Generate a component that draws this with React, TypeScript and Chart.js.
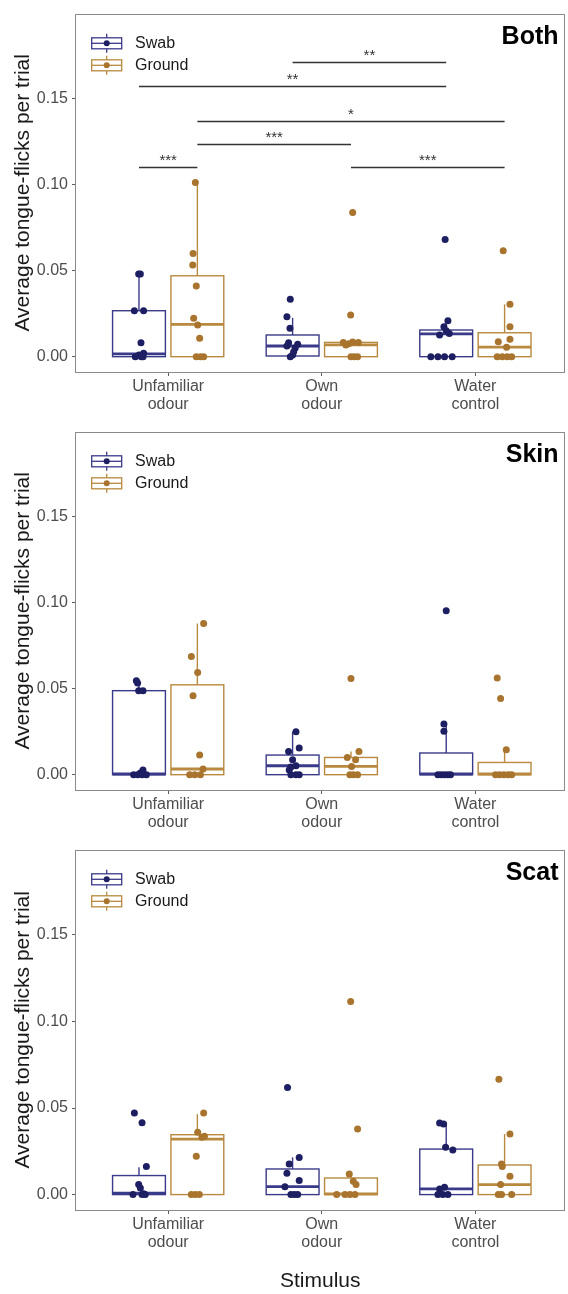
import React, { useEffect, useRef } from "react";
import { Chart, registerables } from "chart.js";

Chart.register(...registerables);

const FONT = "'Liberation Sans', Arial, Helvetica, sans-serif";

// ---------- data ----------
const categories = [["Unfamiliar", "odour"], ["Own", "odour"], ["Water", "control"]];
const groupNames = ["Swab", "Ground"];
const panelNames = ["Both", "Skin", "Scat"];
const yTickValues = [0, 0.05, 0.1, 0.15];

// Box stats per category: [lower whisker, Q1, median, Q3, upper whisker]
// "Both"
const bothSwabValues = [
  [0.048, 0.048, 0.0267, 0.0267, 0.0081, 0.002, 0.001, 0, 0, 0],
  [0.0333, 0.0232, 0.0165, 0.0081, 0.0072, 0.0062, 0.005, 0.0029, 0.001, 0],
  [0.0681, 0.0209, 0.0174, 0.015, 0.0135, 0.0126, 0, 0, 0, 0],
];
const bothSwabJitter = [
  [-0.002, 0.009, -0.03, 0.03, 0.013, 0.03, 0, -0.024, 0.026, 0.015],
  [-0.015, -0.037, -0.017, -0.026, 0.033, -0.037, 0.017, 0.007, 0, -0.015],
  [-0.007, 0.011, -0.015, 0, 0.02, -0.043, -0.1, -0.054, -0.011, 0.039],
];
const bothSwabBox = [
  [0, 0, 0.0016, 0.0267, 0.048],
  [0, 0.0004, 0.0062, 0.0126, 0.0226],
  [0, 0, 0.0132, 0.0155, 0.0209],
];
const bothGroundValues = [
  [0.1012, 0.06, 0.0532, 0.041, 0.0223, 0.0184, 0.0107, 0, 0, 0],
  [0.0838, 0.0242, 0.0085, 0.0083, 0.0083, 0.0075, 0.0068, 0, 0, 0],
  [0.0615, 0.0304, 0.0174, 0.0101, 0.0087, 0.0055, 0, 0, 0, 0],
];
const bothGroundJitter = [
  [-0.013, -0.028, -0.03, -0.007, -0.024, 0.002, 0.015, -0.007, 0.02, 0.041],
  [0.011, -0.002, 0.011, -0.05, 0.048, -0.015, -0.033, 0, 0.02, 0.043],
  [-0.009, 0.035, 0.035, 0.035, -0.041, 0.013, -0.048, -0.015, 0.017, 0.046],
];
const bothGroundBox = [
  [0, 0, 0.0188, 0.047, 0.1012],
  [0, 0, 0.0068, 0.0083, 0.0088],
  [0, 0, 0.0055, 0.0139, 0.0304],
];

// "Skin"
const skinSwabValues = [
  [0.0546, 0.0532, 0.0488, 0.0488, 0.0027, 0.001, 0, 0, 0, 0],
  [0.025, 0.0155, 0.0135, 0.0087, 0.0052, 0.0045, 0.0027, 0, 0, 0],
  [0.0952, 0.0294, 0.0252, 0, 0, 0, 0, 0],
];
const skinSwabJitter = [
  [-0.017, -0.009, -0.002, 0.026, 0.026, 0.009, -0.035, -0.009, 0.02, 0.048],
  [0.022, 0.043, -0.026, 0, 0.022, -0.011, -0.022, -0.011, 0.022, 0.043],
  [0, -0.015, -0.015, -0.054, -0.033, -0.011, 0.011, 0.028],
];
const skinSwabBox = [
  [0, 0, 0.0004, 0.0488, 0.0546],
  [0, 0, 0.0052, 0.0114, 0.025],
  [0, 0, 0.0004, 0.0126, 0.0294],
];
const skinGroundValues = [
  [0.0878, 0.0687, 0.0594, 0.0459, 0.0114, 0.0033, 0, 0, 0],
  [0.0559, 0.0135, 0.01, 0.0087, 0.0048, 0, 0, 0],
  [0.0561, 0.0443, 0.0145, 0, 0, 0, 0, 0],
];
const skinGroundJitter = [
  [0.041, -0.039, 0.002, -0.028, 0.015, 0.037, -0.05, -0.017, 0.02],
  [0, 0.052, -0.024, 0.03, 0.004, -0.007, 0.015, 0.043],
  [-0.048, -0.026, 0.011, -0.059, -0.033, -0.004, 0.024, 0.046],
];
const skinGroundBox = [
  [0, 0, 0.0033, 0.0522, 0.0878],
  [0, 0, 0.0048, 0.01, 0.0135],
  [0, 0, 0.0004, 0.0071, 0.0145],
];

// "Scat"
const scatSwabValues = [
  [0.0471, 0.0415, 0.0163, 0.0058, 0.0038, 0.0005, 0, 0, 0],
  [0.0619, 0.0215, 0.0177, 0.0123, 0.0081, 0.0046, 0, 0, 0],
  [0.0413, 0.0408, 0.0273, 0.0258, 0.0042, 0.0033, 0, 0, 0],
];
const scatSwabJitter = [
  [-0.03, 0.02, 0.048, -0.002, 0.009, 0.03, -0.039, 0.02, 0.041],
  [-0.033, 0.043, -0.022, -0.037, 0.043, -0.05, -0.011, 0.011, 0.033],
  [-0.043, -0.017, -0.004, 0.043, -0.011, -0.043, -0.054, -0.022, 0.011],
];
const scatSwabBox = [
  [0, 0, 0.0008, 0.011, 0.0158],
  [0, 0, 0.0046, 0.0148, 0.0215],
  [0, 0, 0.0033, 0.0263, 0.0412],
];
const scatGroundValues = [
  [0.0471, 0.036, 0.0337, 0.0331, 0.0221, 0, 0, 0],
  [0.1115, 0.0379, 0.0119, 0.0077, 0.0058, 0, 0, 0, 0],
  [0.0667, 0.035, 0.0177, 0.0162, 0.0106, 0.0058, 0, 0, 0],
];
const scatGroundJitter = [
  [0.041, 0.002, 0.046, 0.03, -0.007, -0.039, -0.013, 0.013],
  [-0.002, 0.043, -0.011, 0.015, 0.033, -0.093, -0.039, -0.007, 0.026],
  [-0.037, 0.035, -0.02, -0.015, 0.035, -0.026, -0.041, -0.02, 0.046],
];
const scatGroundBox = [
  [0, 0, 0.0321, 0.0346, 0.0465],
  [0, 0, 0.0004, 0.0096, 0.0119],
  [0, 0, 0.0058, 0.0171, 0.035],
];

// Significance brackets ("Both" panel): [category, group] endpoints
const sigFrom = [[2, 0], [1, 0], [1, 1], [1, 1], [1, 0], [2, 1]];
const sigTo = [[3, 0], [3, 0], [3, 1], [2, 1], [1, 1], [3, 1]];
const sigY = [0.1711, 0.1571, 0.1372, 0.1233, 0.1103, 0.1103];
const sigLabels = ["**", "**", "*", "***", "***", "***"];

// ---------- style ----------
const pointColors = ["#1e1e63", "#a8742e"];
const boxColors = ["#3a3a8a", "#b8893f"];
const GROUP_OFFSET = [-0.19, 0.19];
const BOX_HALF = 0.172;
const Y_MIN = -0.0089;
const Y_MAX = 0.1993;
const X_MIN = 0.4;
const X_MAX = 3.58;

type PanelDef = {
  name: string;
  values: number[][][];
  jitter: number[][][];
  boxes: number[][][];
  sig: boolean;
  top: number;
  height: number;
  xAxisHeight: number;
  xTitle: boolean;
};

const panels: PanelDef[] = [
  {
    name: panelNames[0],
    values: [bothSwabValues, bothGroundValues],
    jitter: [bothSwabJitter, bothGroundJitter],
    boxes: [bothSwabBox, bothGroundBox],
    sig: true, top: 0, height: 418, xAxisHeight: 46, xTitle: false,
  },
  {
    name: panelNames[1],
    values: [skinSwabValues, skinGroundValues],
    jitter: [skinSwabJitter, skinGroundJitter],
    boxes: [skinSwabBox, skinGroundBox],
    sig: false, top: 418, height: 418, xAxisHeight: 46, xTitle: false,
  },
  {
    name: panelNames[2],
    values: [scatSwabValues, scatGroundValues],
    jitter: [scatSwabJitter, scatGroundJitter],
    boxes: [scatSwabBox, scatGroundBox],
    sig: false, top: 836, height: 458, xAxisHeight: 84, xTitle: true,
  },
];

function line(ctx: CanvasRenderingContext2D, x1: number, y1: number, x2: number, y2: number) {
  ctx.beginPath();
  ctx.moveTo(x1, y1);
  ctx.lineTo(x2, y2);
  ctx.stroke();
}

function makePanelPlugin(panel: PanelDef) {
  return {
    id: "panelDecor" + panel.name,
    beforeDatasetsDraw(chart: any) {
      const { ctx, chartArea, scales } = chart;
      const x = scales.x;
      const y = scales.y;
      ctx.save();
      // frame
      ctx.strokeStyle = "#8a8a8a";
      ctx.lineWidth = 1;
      ctx.strokeRect(
        Math.round(chartArea.left) - 0.5,
        Math.round(chartArea.top) + 0.5,
        Math.round(chartArea.right - chartArea.left),
        Math.round(chartArea.bottom - chartArea.top)
      );
      // boxes
      panel.boxes.forEach((groupBoxes, g) => {
        groupBoxes.forEach((stats, c) => {
          const [lo, q1, med, q3, hi] = stats;
          const cx = c + 1 + GROUP_OFFSET[g];
          const xl = x.getPixelForValue(cx - BOX_HALF);
          const xr = x.getPixelForValue(cx + BOX_HALF);
          const xc = x.getPixelForValue(cx);
          const yLo = y.getPixelForValue(lo);
          const yQ1 = y.getPixelForValue(q1);
          const yMed = y.getPixelForValue(med);
          const yQ3 = y.getPixelForValue(q3);
          const yHi = y.getPixelForValue(hi);
          ctx.strokeStyle = boxColors[g];
          ctx.lineWidth = 1.4;
          line(ctx, xc, yQ3, xc, yHi);
          line(ctx, xc, yQ1, xc, yLo);
          ctx.strokeRect(xl, yQ3, xr - xl, yQ1 - yQ3);
          ctx.lineWidth = 2.8;
          line(ctx, xl, yMed, xr, yMed);
        });
      });
      ctx.restore();
    },
    afterDatasetsDraw(chart: any) {
      const { ctx, chartArea, scales } = chart;
      const x = scales.x;
      const y = scales.y;
      ctx.save();
      // panel title
      ctx.fillStyle = "#000000";
      ctx.font = `bold 25px ${FONT}`;
      ctx.textAlign = "right";
      ctx.textBaseline = "alphabetic";
      ctx.fillText(panel.name, chartArea.right - 6, chartArea.top + 30);

      // legend
      groupNames.forEach((gname, g) => {
        const cy = chartArea.top + 29.7 + g * 22;
        const gx0 = chartArea.left + 15.7;
        const gx1 = chartArea.left + 45.7;
        const gc = (gx0 + gx1) / 2;
        ctx.strokeStyle = boxColors[g];
        ctx.lineWidth = 1.3;
        line(ctx, gc, cy - 9.5, gc, cy + 9.5);
        ctx.fillStyle = "#ffffff";
        ctx.fillRect(gx0, cy - 5.5, gx1 - gx0, 11);
        ctx.strokeRect(gx0, cy - 5.5, gx1 - gx0, 11);
        line(ctx, gx0, cy, gx1, cy);
        ctx.fillStyle = pointColors[g];
        ctx.beginPath();
        ctx.arc(gc, cy, 3, 0, Math.PI * 2);
        ctx.fill();
        ctx.fillStyle = "#1a1a1a";
        ctx.font = `16px ${FONT}`;
        ctx.textAlign = "left";
        ctx.textBaseline = "middle";
        ctx.fillText(gname, chartArea.left + 59, cy + 0.5);
      });

      // significance brackets
      if (panel.sig) {
        sigY.forEach((v, i) => {
          const [c1, g1] = sigFrom[i];
          const [c2, g2] = sigTo[i];
          const x1 = x.getPixelForValue(c1 + GROUP_OFFSET[g1]);
          const x2 = x.getPixelForValue(c2 + GROUP_OFFSET[g2]);
          const py = Math.round(y.getPixelForValue(v)) + 0.5;
          ctx.strokeStyle = "#333333";
          ctx.lineWidth = 1.4;
          line(ctx, x1, py, x2, py);
          ctx.fillStyle = "#333333";
          ctx.font = `15px ${FONT}`;
          ctx.textAlign = "center";
          ctx.textBaseline = "alphabetic";
          ctx.fillText(sigLabels[i], (x1 + x2) / 2, py - 3);
        });
      }
      ctx.restore();
    },
  };
}

function Panel({ panel }: { panel: PanelDef }) {
  const ref = useRef<HTMLCanvasElement>(null);
  useEffect(() => {
    const canvas = ref.current;
    if (!canvas) return;
    const datasets = groupNames.map((gname, g) => ({
      label: gname,
      data: panel.values[g].flatMap((vals, c) =>
        vals.map((v, k) => ({ x: c + 1 + GROUP_OFFSET[g] + panel.jitter[g][c][k], y: v }))
      ),
      backgroundColor: pointColors[g],
      borderWidth: 0,
      pointRadius: 3.5,
      pointHoverRadius: 3.5,
    }));
    const chart = new Chart(canvas, {
      type: "scatter",
      data: { datasets },
      options: {
        animation: false,
        responsive: false,
        maintainAspectRatio: false,
        devicePixelRatio: 1,
        layout: { padding: { top: 13, right: 3, left: 0, bottom: 0 } },
        plugins: {
          legend: { display: false },
          tooltip: { enabled: false },
        },
        scales: {
          x: {
            type: "linear",
            min: X_MIN,
            max: X_MAX,
            afterBuildTicks: (s: any) => {
              s.ticks = categories.map((_, i) => ({ value: i + 1 }));
            },
            afterFit: (s: any) => {
              s.height = panel.xAxisHeight;
            },
            ticks: {
              autoSkip: false,
              maxRotation: 0,
              minRotation: 0,
              padding: 2,
              color: "#4d4d4d",
              font: { family: FONT, size: 16, lineHeight: 1.1 },
              callback: (v: any) => categories[Math.round(Number(v)) - 1] ?? "",
            },
            grid: {
              display: true,
              drawOnChartArea: false,
              drawTicks: true,
              tickLength: 4,
              color: "#5a5a5a",
            },
            border: { display: false },
            title: {
              display: panel.xTitle,
              text: "Stimulus",
              color: "#1a1a1a",
              font: { family: FONT, size: 21 },
              padding: { top: 0, bottom: 0 },
            },
          },
          y: {
            type: "linear",
            min: Y_MIN,
            max: Y_MAX,
            afterBuildTicks: (s: any) => {
              s.ticks = yTickValues.map((v) => ({ value: v }));
            },
            afterFit: (s: any) => {
              s.width = 76;
            },
            ticks: {
              padding: 4,
              color: "#4d4d4d",
              font: { family: FONT, size: 16 },
              callback: (v: any) => Number(v).toFixed(2),
            },
            grid: {
              display: true,
              drawOnChartArea: false,
              drawTicks: true,
              tickLength: 4,
              color: "#5a5a5a",
            },
            border: { display: false },
            title: {
              display: true,
              text: "Average tongue-flicks per trial",
              color: "#1a1a1a",
              font: { family: FONT, size: 21 },
              padding: { top: 11, bottom: 0 },
            },
          },
        },
      },
      plugins: [makePanelPlugin(panel)],
    });
    return () => chart.destroy();
  }, [panel]);
  return (
    <canvas
      ref={ref}
      width={568}
      height={panel.height}
      style={{ position: "absolute", left: 0, top: panel.top, width: 568, height: panel.height, display: "block" }}
    />
  );
}

export default function App() {
  return (
    <div style={{ position: "absolute", left: 0, top: 0, width: 568, height: 1294, background: "#ffffff", overflow: "hidden" }}>
      {panels.map((p) => (
        <Panel key={p.name} panel={p} />
      ))}
    </div>
  );
}
